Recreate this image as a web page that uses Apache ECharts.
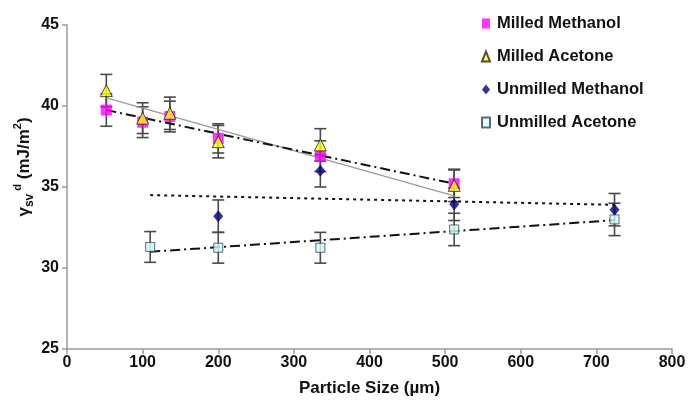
<!DOCTYPE html>
<html>
<head>
<meta charset="utf-8">
<script src="https://cdn.jsdelivr.net/npm/echarts@6/dist/echarts.min.js"></script>
<style>
  html, body { margin: 0; padding: 0; background: #fff; }
  #chart { width: 689px; height: 400px; }
</style>
</head>
<body>
<div id="chart"></div>
<script>
// values
const xMilled = [52, 100, 136, 200, 335, 512];
const milledMethanol = [39.75, 39.0, 39.35, 38.0, 36.9, 35.2];
const milledMethanolErr = [1.0, 0.95, 0.95, 0.9, 0.95, 0.85];
const milledAcetone = [40.95, 39.25, 39.55, 37.8, 37.6, 35.1];
const milledAcetoneErr = [1.0, 0.95, 1.0, 1.0, 1.0, 1.0];

const xUnmilledMethanol = [200, 335, 512, 724];
const unmilledMethanol = [33.2, 36.0, 33.93, 33.6];
const unmilledMethanolErr = [1.0, 1.0, 1.0, 1.0];

const xUnmilledAcetone = [110, 200, 335, 512, 724];
const unmilledAcetone = [31.3, 31.25, 31.25, 32.38, 33.0];
const unmilledAcetoneErr = [0.95, 0.95, 0.95, 1.0, 1.0];

// trend lines: start and end points
const trendMilledAcetone = [[52, 40.5], [512, 34.45]];
const trendMilledMethanol = [[52, 39.75], [512, 35.2]];
const trendUnmilledMethanol = [[110, 34.5], [724, 33.9]];
const trendUnmilledAcetone = [[110, 31.0], [724, 32.95]];

const xTicks = [0, 100, 200, 300, 400, 500, 600, 700, 800];
const yTicks = [25, 30, 35, 40, 45];

const pairs = (xs, ys) => xs.map((x, i) => [x, ys[i]]);
const errRows = (xs, ys, es) => xs.map((x, i) => [x, ys[i] - es[i], ys[i] + es[i]]);

const chart = echarts.init(document.getElementById('chart'), null, { renderer: 'canvas' });

// error bars drawn with a custom series
const errorSeries = (rows) => ({
  type: 'custom',
  silent: true,
  z: 1,
  data: rows,
  renderItem: (params, api) => {
    const lo = api.coord([api.value(0), api.value(1)]);
    const hi = api.coord([api.value(0), api.value(2)]);
    const w = 6;
    const style = { stroke: '#4a4a4a', lineWidth: 1.6 };
    return {
      type: 'group',
      children: [
        { type: 'line', shape: { x1: lo[0], y1: lo[1], x2: hi[0], y2: hi[1] }, style },
        { type: 'line', shape: { x1: lo[0] - w, y1: lo[1], x2: lo[0] + w, y2: lo[1] }, style },
        { type: 'line', shape: { x1: hi[0] - w, y1: hi[1], x2: hi[0] + w, y2: hi[1] }, style }
      ]
    };
  }
});

const trendSeries = (pts, lineStyle) => ({
  type: 'line',
  silent: true,
  z: 2,
  symbol: 'none',
  data: pts,
  lineStyle
});

const option = {
  animation: false,
  textStyle: { fontFamily: 'Liberation Sans, Arial, sans-serif' },
  grid: { left: 67, right: 17, top: 25, bottom: 51, outerBoundsMode: 'none' },
  legend: {
    orient: 'vertical',
    left: 476,
    top: 10,
    itemWidth: 8,
    itemHeight: 10,
    itemGap: 16,
    textStyle: { fontSize: 16.5, fontWeight: 'bold', color: '#111', padding: [0, 0, 0, 2] },
    data: ['Milled Methanol', 'Milled Acetone', 'Unmilled Methanol', 'Unmilled Acetone']
  },
  xAxis: {
    type: 'value',
    min: 0, max: 800, interval: 100,
    name: 'Particle Size (µm)',
    nameLocation: 'middle',
    nameGap: 31,
    nameTextStyle: { fontSize: 17, fontWeight: 'bold', color: '#111' },
    axisLine: { lineStyle: { color: '#999', width: 1.5 } },
    axisTick: { length: 5, lineStyle: { color: '#999', width: 1.5 } },
    axisLabel: {
      fontSize: 16, fontWeight: 'bold', color: '#111', margin: 6,
      formatter: (v) => xTicks.includes(v) ? String(v) : ''
    },
    splitLine: { show: false }
  },
  yAxis: {
    type: 'value',
    min: 25, max: 45, interval: 5,
    axisLine: { show: true, lineStyle: { color: '#999', width: 1.5 } },
    axisTick: { show: true, length: 5, lineStyle: { color: '#999', width: 1.5 } },
    axisLabel: {
      fontSize: 16, fontWeight: 'bold', color: '#111', margin: 8,
      formatter: (v) => yTicks.includes(v) ? String(v) : ''
    },
    splitLine: { show: false }
  },
  graphic: [{
    type: 'text',
    x: 24,
    y: 167,
    rotation: Math.PI / 2,
    style: {
      text: '{g|γ}{s|sv}{p| d}{n| (mJ/m}{p|2}{n|)}',
      align: 'center',
      verticalAlign: 'middle',
      fill: '#111',
      fontFamily: 'Liberation Sans, Arial, sans-serif',
      fontWeight: 'bold',
      rich: {
        g: { fontSize: 17, fontWeight: 'bold', lineHeight: 24, fill: '#111' },
        s: { fontSize: 12, fontWeight: 'bold', lineHeight: 24, verticalAlign: 'bottom', fill: '#111' },
        p: { fontSize: 11, fontWeight: 'bold', lineHeight: 24, verticalAlign: 'top', fill: '#111' },
        n: { fontSize: 17, fontWeight: 'bold', lineHeight: 24, fill: '#111' }
      }
    }
  }],
  series: [
    trendSeries(trendMilledAcetone, { color: '#9a9a9a', width: 1.2, type: 'solid' }),
    trendSeries(trendMilledMethanol, { color: '#111', width: 2, type: [10, 4, 2, 4] }),
    trendSeries(trendUnmilledMethanol, { color: '#111', width: 2, type: [3, 4] }),
    trendSeries(trendUnmilledAcetone, { color: '#111', width: 2, type: [10, 4, 2, 4] }),
    errorSeries(errRows(xMilled, milledMethanol, milledMethanolErr)),
    errorSeries(errRows(xMilled, milledAcetone, milledAcetoneErr)),
    errorSeries(errRows(xUnmilledMethanol, unmilledMethanol, unmilledMethanolErr)),
    errorSeries(errRows(xUnmilledAcetone, unmilledAcetone, unmilledAcetoneErr)),
    {
      name: 'Milled Methanol', type: 'scatter', z: 3,
      symbol: 'rect', symbolSize: 11,
      itemStyle: { color: '#ff00ff' },
      data: pairs(xMilled, milledMethanol)
    },
    {
      name: 'Milled Acetone', type: 'scatter', z: 4,
      symbol: 'triangle', symbolSize: 12,
      itemStyle: { color: '#ffff00', borderColor: '#222', borderWidth: 1 },
      data: pairs(xMilled, milledAcetone)
    },
    {
      name: 'Unmilled Methanol', type: 'scatter', z: 3,
      symbol: 'diamond', symbolSize: [10, 12],
      itemStyle: { color: '#000080' },
      data: pairs(xUnmilledMethanol, unmilledMethanol)
    },
    {
      name: 'Unmilled Acetone', type: 'scatter', z: 3,
      symbol: 'rect', symbolSize: 9,
      itemStyle: { color: '#ccffff', borderColor: '#444', borderWidth: 1 },
      data: pairs(xUnmilledAcetone, unmilledAcetone)
    }
  ]
};

chart.setOption(option);
</script>
</body>
</html>
